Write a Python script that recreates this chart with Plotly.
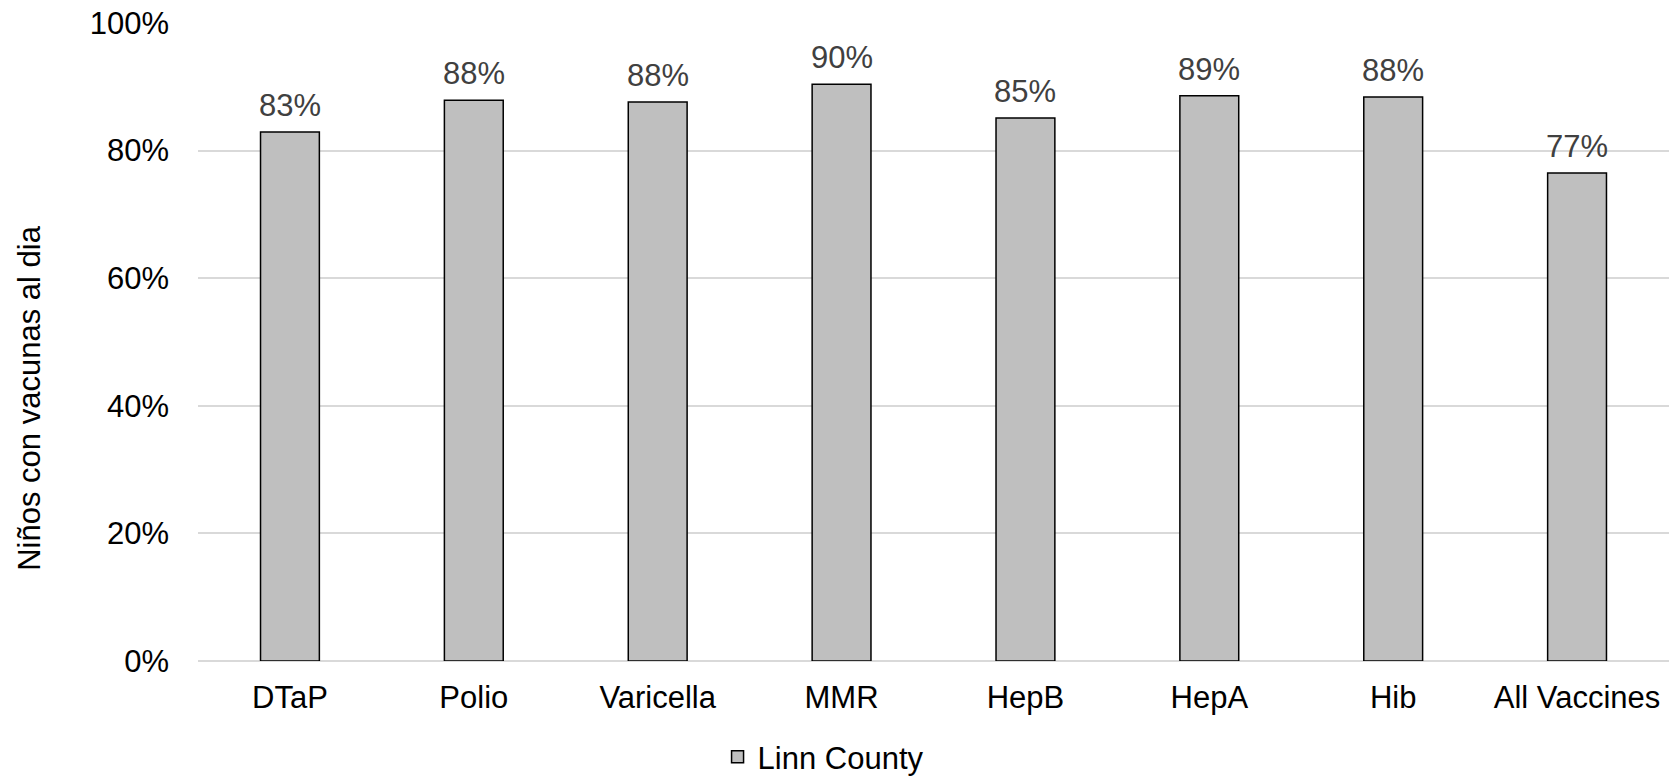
import plotly.graph_objects as go

categories = ["DTaP", "Polio", "Varicella", "MMR", "HepB", "HepA", "Hib", "All Vaccines"]
values = [0.829, 0.879, 0.876, 0.904, 0.851, 0.886, 0.884, 0.765]
labels = ["83%", "88%", "88%", "90%", "85%", "89%", "88%", "77%"]
series_name = "Linn County"
y_title = "Niños con vacunas al dia"
y_ticks = [0, 0.2, 0.4, 0.6, 0.8, 1.0]
y_ticktext = ["0%", "20%", "40%", "60%", "80%", "100%"]

FONT = "Arial, Liberation Sans, sans-serif"

fig = go.Figure()
fig.add_trace(go.Bar(
    x=categories, y=values, name=series_name,
    marker=dict(color="#bfbfbf", line=dict(color="#000000", width=1.5)),
    showlegend=True,
))

for c, v, t in zip(categories, values, labels):
    fig.add_annotation(x=c, y=v, text=t, showarrow=False, yanchor="bottom",
                       yshift=7, font=dict(family=FONT, size=31, color="#404040"))

# y-axis title (placed like the original: centred lower than the plot centre)
fig.add_annotation(text=y_title, xref="paper", yref="paper", x=0, y=0.411,
                   xanchor="center", yanchor="middle", xshift=-168, textangle=-90,
                   showarrow=False, font=dict(family=FONT, size=31, color="#000000"))

fig.update_layout(
    width=1678, height=778,
    paper_bgcolor="white", plot_bgcolor="white",
    margin=dict(l=198, r=9, t=23, b=117),
    bargap=0.68,
    font=dict(family=FONT, size=31, color="#000000"),
    legend=dict(orientation="h", xref="container", x=0.4905, xanchor="center",
                yref="container", y=0.027, yanchor="middle",
                font=dict(size=31, color="#000000")),
    xaxis=dict(showgrid=False, showline=False, ticks="", tickfont=dict(size=31),
               ticklabelstandoff=15, automargin=False),
    yaxis=dict(range=[0, 1.0], tickvals=y_ticks, ticktext=y_ticktext,
               showgrid=True, gridcolor="#d9d9d9", gridwidth=1.5,
               zeroline=True, zerolinecolor="#d9d9d9", zerolinewidth=1.5,
               showline=False, ticks="", tickfont=dict(size=31),
               ticklabelstandoff=28, automargin=False, ticklabeloverflow="allow"),
)

fig.write_html("out.html", config={"displayModeBar": False},
               post_script="document.body.style.margin='0';")
